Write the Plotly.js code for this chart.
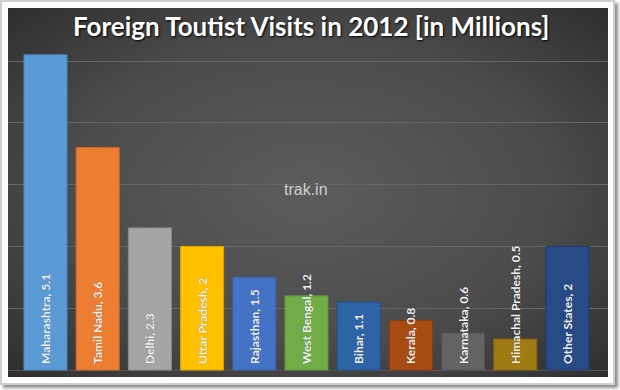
<!DOCTYPE html>
<html>
<head>
<meta charset="utf-8">
<script src="https://cdn.plot.ly/plotly-3.0.1.min.js"></script>
<style>
  html, body { margin: 0; padding: 0; background: #ffffff; }
  #frame { position: absolute; left: 0; top: 0; width: 615px; height: 385px; box-sizing: border-box;
           border: 2px solid #cfcfcf; background: #ffffff; box-shadow: 3px 3px 3px rgba(0,0,0,0.45); }
  #chart { position: absolute; left: 0; top: 0; width: 620px; height: 390px; }
</style>
</head>
<body>
<div id="frame"></div>
<div id="chart"></div>
<script>
const states = ["Maharashtra", "Tamil Nadu", "Delhi", "Uttar Pradesh", "Rajasthan", "West Bengal",
                "Bihar", "Kerala", "Karnataka", "Himachal Pradesh", "Other States"];
const visits = [5.1, 3.6, 2.3, 2, 1.5, 1.2, 1.1, 0.8, 0.6, 0.5, 2];
const barColors = ["#5b9bd5", "#ed7d31", "#a5a5a5", "#ffc000", "#4472c4", "#70ad47",
                   "#2c64a6", "#a84b12", "#636363", "#a07a12", "#284a85"];
const edgeColors = ["#4a86bd", "#cf6a26", "#8c8c8c", "#d9a300", "#3862ad", "#5e9639",
                    "#22528a", "#8a3c0e", "#505050", "#85650e", "#1f3b6e"];
const titleText = "Foreign Toutist Visits in 2012 [in Millions]";
const watermark = "trak.in";
const gridVals = [1, 2, 3, 4, 5];

const bgSvg = '<svg xmlns="http://www.w3.org/2000/svg" width="600" height="369" viewBox="0 0 600 369" preserveAspectRatio="none">' +
  '<defs><radialGradient id="g" cx="50%" cy="50%" r="75%">' +
  '<stop offset="0%" stop-color="#5c5c5c"/><stop offset="55%" stop-color="#4b4b4b"/><stop offset="100%" stop-color="#2a2a2a"/>' +
  '</radialGradient></defs><rect x="0" y="0" width="600" height="369" fill="url(#g)"/></svg>';

const labels = states.map((s, i) => "\u00a0<b>" + s + ", " + visits[i] + "</b>");

const trace = {
  type: "bar",
  x: states,
  y: visits,
  text: labels,
  texttemplate: "%{text}",
  textposition: "inside",
  insidetextanchor: "start",
  textangle: -90,
  constraintext: "none",
  cliponaxis: false,
  insidetextfont: { family: "Lato, sans-serif", size: 12, color: "#f2f2f2",
                    shadow: "0px 0px 1px rgba(0,0,0,0.4)" },
  marker: { color: barColors, line: { color: edgeColors, width: 1 } },
  hoverinfo: "none"
};

const layout = {
  width: 620, height: 390,
  margin: { l: 8, r: 12, t: 8, b: 13, pad: 0 },
  paper_bgcolor: "rgba(0,0,0,0)",
  plot_bgcolor: "#3c3c3c",
  showlegend: false,
  bargap: 0.176,
  title: {
    text: "<b>" + titleText + "</b>",
    x: 0.502, xanchor: "center", xref: "container",
    y: 0.93, yanchor: "middle", yref: "container",
    font: { family: "Lato, sans-serif", size: 26, color: "#ffffff", shadow: "1px 1px 2px #000000" }
  },
  xaxis: {
    range: [-0.718, 10.776],
    showticklabels: false, ticks: "", showgrid: false, zeroline: false, showline: false,
    fixedrange: true
  },
  yaxis: {
    range: [-0.113, 5.858],
    tickmode: "array", tickvals: gridVals,
    showticklabels: false, ticks: "",
    showgrid: true, gridcolor: "#666666", gridwidth: 1,
    zeroline: true, zerolinecolor: "#555555", zerolinewidth: 1,
    showline: false, fixedrange: true
  },
  images: [{
    source: "data:image/svg+xml;charset=utf-8," + encodeURIComponent(bgSvg),
    xref: "paper", yref: "paper", x: 0, y: 1, sizex: 1, sizey: 1,
    xanchor: "left", yanchor: "top", sizing: "stretch", layer: "below"
  }],
  annotations: [{
    text: watermark, xref: "paper", yref: "paper", x: 0.497, y: 0.507,
    xanchor: "center", yanchor: "middle", showarrow: false,
    font: { family: "Liberation Sans, Arial, sans-serif", size: 16, color: "#cfcfcf" }
  }]
};

Plotly.newPlot("chart", [trace], layout, { displayModeBar: false, staticPlot: true });
</script>
</body>
</html>
